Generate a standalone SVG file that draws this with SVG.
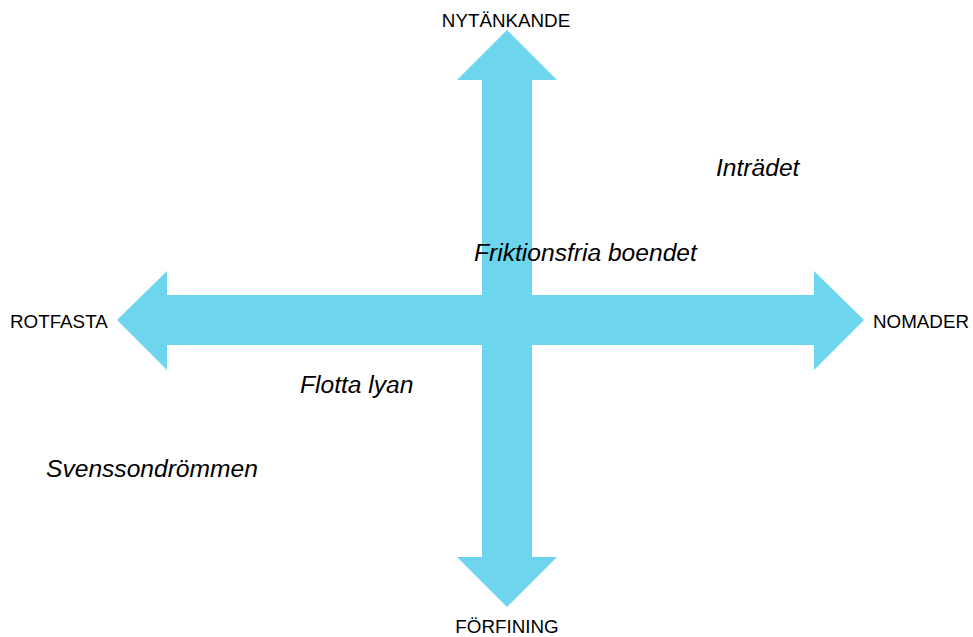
<svg xmlns="http://www.w3.org/2000/svg" width="973" height="637" viewBox="0 0 973 637">
<style>
.arrow{fill:#6DD6EE;stroke:none}
.axis{font-family:"Liberation Sans",Arial,sans-serif;font-size:18.8px;fill:#000}
.lbl{font-family:"Liberation Sans",Arial,sans-serif;font-size:24.6px;font-style:italic;fill:#000}
</style>
<rect width="973" height="637" fill="#fff"/>
<g id="connectors">
<polygon id="vertical-arrow" class="arrow" points="507,30 557,80 532,80 532,557 557,557 507,607 457,557 482,557 482,80 457,80"/>
<polygon id="horizontal-arrow" class="arrow" points="117,320 167,271 167,295 814,295 814,271 864,320 814,370 814,345 167,345 167,370"/>
</g>
<g id="node-nytankande"><text class="axis" x="506" y="27" text-anchor="middle">NYTÄNKANDE</text></g>
<g id="node-forfining"><text class="axis" x="507" y="633" text-anchor="middle">FÖRFINING</text></g>
<g id="node-rotfasta"><text class="axis" x="10" y="328">ROTFASTA</text></g>
<g id="node-nomader"><text class="axis" x="873" y="328">NOMADER</text></g>
<g id="node-intradet"><text class="lbl" x="716" y="176">Inträdet</text></g>
<g id="node-friktionsfria"><text class="lbl" x="474" y="261">Friktionsfria boendet</text></g>
<g id="node-flotta"><text class="lbl" x="300" y="393">Flotta lyan</text></g>
<g id="node-svensson"><text class="lbl" x="46" y="477">Svenssondrömmen</text></g>
</svg>
